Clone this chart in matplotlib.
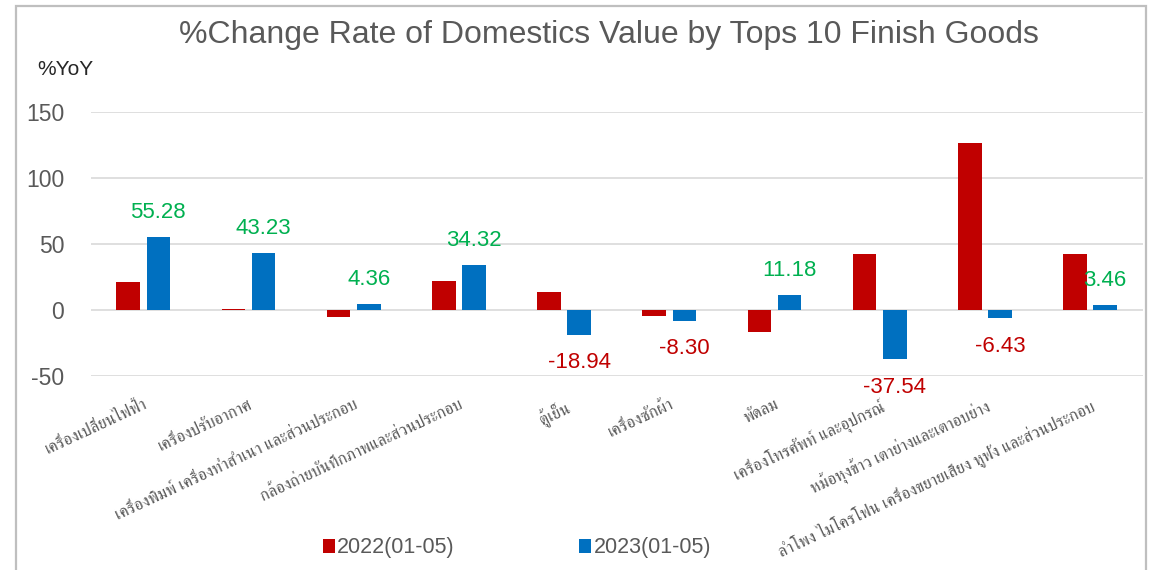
import matplotlib
matplotlib.use("Agg")
import matplotlib.pyplot as plt
import numpy as np
from matplotlib.patches import Patch, Rectangle

title = "%Change Rate of Domestics Value by Tops 10 Finish Goods"
categories = [
    "เครื่องเปลี่ยนไฟฟ้า",
    "เครื่องปรับอากาศ",
    "เครื่องพิมพ์ เครื่องทำสำเนา และส่วนประกอบ",
    "กล้องถ่ายบันทึกภาพและส่วนประกอบ",
    "ตู้เย็น",
    "เครื่องซักผ้า",
    "พัดลม",
    "เครื่องโทรศัพท์ และอุปกรณ์",
    "หม้อหุงข้าว เตาย่างและเตาอบย่าง",
    "ลำโพง ไมโครโฟน เครื่องขยายเสียง หูฟัง และส่วนประกอบ",
]
series_names = ["2022(01-05)", "2023(01-05)"]
values_2022 = [20.8, 0.4, -5.3, 21.8, 13.7, -4.9, -16.5, 42.6, 126.8, 42.3]
values_2023 = [55.28, 43.23, 4.36, 34.32, -18.94, -8.30, 11.18, -37.54, -6.43, 3.46]
yticks = [-50, 0, 50, 100, 150]

RED = "#C00000"
BLUE = "#0070C0"
GREEN = "#00B050"
GRAY = "#595959"
LATIN = ["Liberation Sans", "DejaVu Sans"]
THAI = ["FreeSerif", "Noto Serif Thai", "DejaVu Sans"]

W, H = 1155, 570
fig = plt.figure(figsize=(W / 100, H / 100), dpi=100)

# chart border
fig.patches.append(Rectangle((16 / W, -0.05), (1146 - 16) / W, 1 - 6 / H + 0.05,
                             transform=fig.transFigure, fill=False,
                             edgecolor="#BFBFBF", linewidth=1.6))

left, right = 90.7 / W, 1142.7 / W
bottom, top = 1 - 375.7 / H, 1 - 112.3 / H
ax = fig.add_axes([left, bottom, right - left, top - bottom])

x = np.arange(len(categories))
bw = 0.225
off = 0.143
ax.bar(x - off, values_2022, width=bw, color=RED, zorder=3)
ax.bar(x + off, values_2023, width=bw, color=BLUE, zorder=3)

for xi, v in zip(x, values_2023):
    if v >= 0:
        ax.annotate(f"{v:.2f}", (xi + off, v), xytext=(0, 10), textcoords="offset points",
                    ha="center", va="bottom", color=GREEN, fontsize=16, family=LATIN)
    else:
        ax.annotate(f"{v:.2f}", (xi + off, v), xytext=(0, -12.5), textcoords="offset points",
                    ha="center", va="top", color=RED, fontsize=16, family=LATIN)

ax.set_xlim(-0.5, len(categories) - 0.5)
ax.set_ylim(-50, 150)
ax.set_yticks(yticks)
ax.set_yticklabels([str(t) for t in yticks], fontsize=16.5, color=GRAY, family=LATIN)
ax.tick_params(axis="y", length=0, pad=19)
ax.grid(axis="y", color="#D9D9D9", linewidth=1.2, zorder=0)
ax.set_axisbelow(True)
for s in ax.spines.values():
    s.set_visible(False)

ax.set_xticks(x)
ax.set_xticklabels(categories, rotation=25, ha="right", va="top",
                   rotation_mode="anchor", fontsize=12, color=GRAY, family=THAI)
ax.tick_params(axis="x", length=0, pad=15)

fig.text(609 / W, 1 - 43 / H, title, ha="center", va="baseline",
         fontsize=23, color=GRAY, family=LATIN)
fig.text(37.5 / W, 1 - 70 / H, "%YoY", ha="left", va="center",
         fontsize=15, color="#262626", family=LATIN)

handles = [Patch(facecolor=RED, edgecolor="none"), Patch(facecolor=BLUE, edgecolor="none")]
fig.legend(handles, series_names, loc="center", bbox_to_anchor=(517 / W, 1 - 548 / H),
           ncol=2, frameon=False, handlelength=0.55, handleheight=0.6,
           handletextpad=0.1, columnspacing=5.8, borderpad=0,
           prop={"family": LATIN, "size": 15.5}, labelcolor=GRAY)

fig.savefig("out.png", dpi=100)
